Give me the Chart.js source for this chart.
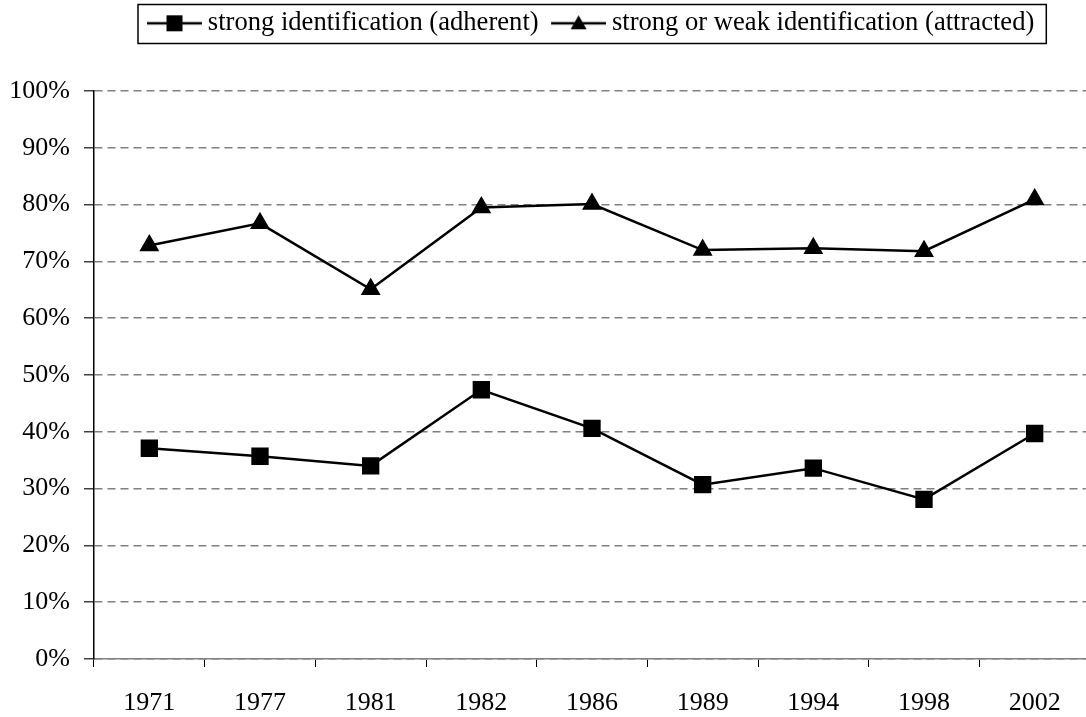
<!DOCTYPE html>
<html>
<head>
<meta charset="utf-8">
<script src="https://cdn.jsdelivr.net/npm/chart.js@4"></script>
<style>
  html, body { margin: 0; padding: 0; background: #fff; overflow: hidden; }
  /* the original plot runs past the right edge of the picture, so the canvas is a bit wider and clipped */
  #wrap { width: 1086px; height: 717px; overflow: hidden; }
  #myChart { display: block; }
</style>
</head>
<body>
<div id="wrap"><canvas id="myChart" width="1103" height="717"></canvas></div>
<script>
// data
const years = ['1971', '1977', '1981', '1982', '1986', '1989', '1994', '1998', '2002'];
const adherent = [37.1, 35.7, 34.0, 47.4, 40.6, 30.7, 33.6, 28.1, 39.7];
const attracted = [72.8, 76.7, 65.1, 79.5, 80.1, 72.0, 72.3, 71.8, 80.9];
const seriesNames = ['strong identification (adherent)', 'strong or weak identification (attracted)'];

const FONT = 'Liberation Serif';

// legend swatch: line with the marker in the middle (transparent margin on the left)
function legendSwatch(shape) {
    const c = document.createElement('canvas');
    c.width = 65;
    c.height = 18;
    const g = c.getContext('2d');
    g.strokeStyle = '#000';
    g.lineWidth = 2.5;
    g.beginPath();
    g.moveTo(10, 9);
    g.lineTo(65, 9);
    g.stroke();
    g.fillStyle = '#000';
    if (shape === 'rect') {
        g.fillRect(29.5, 1, 16, 16);
    } else {
        g.beginPath();
        g.moveTo(37.5, 1);
        g.lineTo(45.5, 15);
        g.lineTo(29.5, 15);
        g.closePath();
        g.fill();
    }
    return c;
}

// legend takes the top 91px, sits at a fixed x, and gets a box drawn round it
const legendBox = {
    id: 'legendBox',
    beforeInit(chart) {
        const fit = chart.legend.fit;
        chart.legend.fit = function () {
            fit.call(this);
            this.height = 91;
        };
    },
    afterLayout(chart) {
        chart.legend.left = 134.5;
        chart.legend.right = 1086;
    },
    afterDraw(chart) {
        const boxes = chart.legend.legendHitBoxes;
        if (!boxes || !boxes.length) return;
        const first = boxes[0];
        const last = boxes[boxes.length - 1];
        const ctx = chart.ctx;
        const left = first.left - 6.5;
        const right = last.left + last.width + 12;
        ctx.save();
        ctx.strokeStyle = '#000';
        ctx.lineWidth = 1.5;
        ctx.strokeRect(left, 4.5, right - left, 39);
        ctx.restore();
    }
};

const ctx = document.getElementById('myChart').getContext('2d');
const myChart = new Chart(ctx, {
    type: 'line',
    data: {
        labels: years,
        datasets: [{
            label: seriesNames[0],
            data: adherent,
            borderColor: '#000',
            backgroundColor: '#000',
            borderWidth: 2.5,
            pointStyle: 'rect',
            pointRadius: 10.5,
            pointHoverRadius: 10.5,
            tension: 0
        }, {
            label: seriesNames[1],
            data: attracted,
            borderColor: '#000',
            backgroundColor: '#000',
            borderWidth: 2.5,
            pointStyle: 'triangle',
            pointRadius: 9,
            pointHoverRadius: 9,
            tension: 0
        }]
    },
    options: {
        responsive: false,
        animation: false,
        layout: {
            padding: { top: 0, right: 0, left: 0, bottom: 0 }
        },
        plugins: {
            tooltip: { enabled: false },
            legend: {
                position: 'top',
                align: 'start',
                labels: {
                    usePointStyle: true,
                    pointStyleWidth: 50,
                    padding: 10,
                    color: '#000',
                    font: { family: FONT, size: 26.6 },
                    generateLabels: function (chart) {
                        return chart.data.datasets.map(function (ds, i) {
                            return {
                                text: ds.label,
                                pointStyle: legendSwatch(ds.pointStyle),
                                fillStyle: '#000',
                                strokeStyle: '#000',
                                lineWidth: 0,
                                fontColor: '#000',
                                datasetIndex: i
                            };
                        });
                    }
                }
            }
        },
        scales: {
            x: {
                offset: true,
                border: { color: '#808080', width: 1.5 },
                grid: {
                    offset: true,
                    drawOnChartArea: false,
                    drawTicks: true,
                    tickLength: 8,
                    tickColor: '#000',
                    tickWidth: 1
                },
                ticks: {
                    color: '#000',
                    padding: 21,
                    maxRotation: 0,
                    font: { family: FONT, size: 26 }
                },
                afterFit: function (s) {
                    s.height = 58;
                    s.paddingLeft = 0;
                    s.paddingRight = 0;
                }
            },
            y: {
                min: 0,
                max: 100,
                border: { color: '#000', width: 1.5, dash: [8, 5] },
                grid: {
                    color: '#808080',
                    lineWidth: 1.5,
                    drawTicks: true,
                    tickLength: 10,
                    tickColor: '#404040',
                    tickBorderDash: []
                },
                ticks: {
                    stepSize: 10,
                    color: '#000',
                    padding: 14,
                    font: { family: FONT, size: 26 },
                    callback: function (v) { return v + '%'; }
                },
                afterFit: function (s) { s.width = 94; }
            }
        }
    },
    plugins: [legendBox]
});
</script>
</body>
</html>
